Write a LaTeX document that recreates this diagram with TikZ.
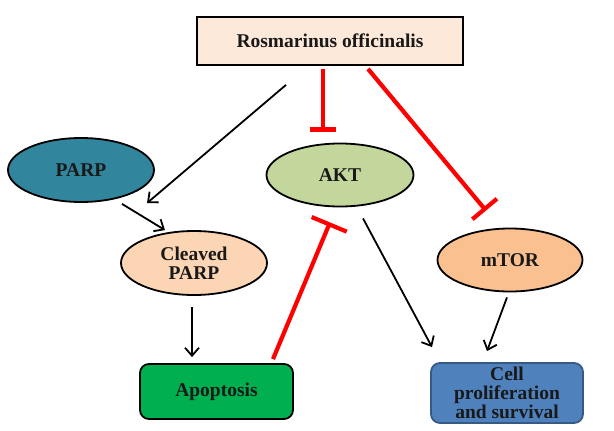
\documentclass[tikz,border=0pt]{standalone}
\usepackage{fontspec}
\setmainfont{Liberation Serif}
\usetikzlibrary{arrows.meta,shapes.geometric,calc}
\definecolor{topfill}{HTML}{FDE9D9}
\definecolor{parpfill}{HTML}{31859C}
\definecolor{cleavedfill}{HTML}{FCD5B5}
\definecolor{aktfill}{HTML}{C3D69B}
\definecolor{mtorfill}{HTML}{FAC090}
\definecolor{apopfill}{HTML}{00B050}
\definecolor{cellfill}{HTML}{4F81BD}
\definecolor{inhred}{HTML}{FF0000}
\tikzset{
  lbl/.style={font=\fontsize{19.5}{19}\selectfont\bfseries, align=center, text=black!90},
  oval/.style={lbl, ellipse, draw=black, line width=1.8pt, inner sep=0pt},
  rbox/.style={lbl, draw=black, line width=1.8pt, rounded corners=9pt, inner sep=0pt},
  arr/.style={draw=black, line width=1.8pt, -{Straight Barb[length=8pt,width=14pt,line width=1.8pt]}},
  inh/.style={draw=inhred, line width=4.2pt},
}
\begin{document}
\begin{tikzpicture}[x=1pt,y=-1pt]
\useasboundingbox (0,0) rectangle (614,431);
\node[lbl, draw=black, line width=1.8pt, fill=topfill, minimum width=266pt, minimum height=48pt, inner sep=0pt] (top) at (330,41) {Rosmarinus officinalis};
\node[oval, fill=parpfill, minimum width=146pt, minimum height=64pt] (parp) at (81,170) {PARP};
\node[oval, fill=cleavedfill, minimum width=146pt, minimum height=64pt] (cleaved) at (194,263) {Cleaved\\PARP};
\node[oval, fill=aktfill, minimum width=147pt, minimum height=63pt] (akt) at (340,175) {AKT};
\node[oval, fill=mtorfill, minimum width=145pt, minimum height=63pt] (mtor) at (510,260) {mTOR};
\node[rbox, fill=apopfill, minimum width=153pt, minimum height=55pt] (apop) at (216.5,391.5) {Apoptosis};
\node[rbox, fill=cellfill, minimum width=152pt, minimum height=60pt, draw=cellfill!70!black] (cell) at (507,393) {Cell\\proliferation\\and survival};
% black arrows
\draw[arr] ($(top.south)+(-44,19)$) -- ($(cleaved.north)+(-47,-27)$);
\draw[arr] ($(parp.south)+(41,1)$) -- ($(cleaved.north)+(-29,0)$);
\draw[arr] ($(cleaved.south)+(-2,11)$) -- ($(apop.north)+(-24.5,-6)$);
\draw[arr] ($(akt.south)+(23,11)$) -- ($(cell.north)+(-75,-15)$);
\draw[arr] ($(mtor.south)+(-3,5)$) -- ($(cell.north)+(-20,-11)$);
% inhibitions
\draw[inh, -{Bar[width=26pt,line width=4.2pt]}] ($(top.south)+(-7,3)$) -- ($(akt.north)+(-17,-11)$);
\draw[inh, -{Bar[width=32pt,line width=4.2pt]}] ($(top.south)+(38,3)$) -- ($(mtor.north)+(-24,-17)$);
\draw[inh, -{Bar[width=38pt,line width=4.2pt]}] ($(apop.north)+(56.5,-4)$) -- ($(akt.south)+(-10,15)$);
\end{tikzpicture}
\end{document}
